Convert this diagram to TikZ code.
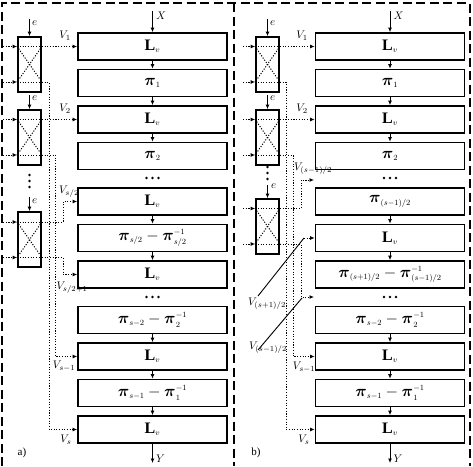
\RequirePackage{fix-cm}
\documentclass[tikz,border=0pt]{standalone}
\usepackage{amsmath}
\usepackage{fontspec}
\setmainfont{Liberation Serif}
\usetikzlibrary{arrows.meta,calc}
\newcommand\Lv{$\mathbf{L}_{\scriptscriptstyle v}$}
\newcommand\bpi{\boldsymbol{\pi}}
\tikzset{
 mbox/.style={draw, line width=1.6pt, minimum width=149pt, minimum height=27pt, inner sep=0pt, font=\fontsize{16}{18}\selectfont},
 xbox/.style={draw, line width=1.8pt, minimum width=23pt, minimum height=55pt, inner sep=0pt},
 arr/.style={line width=1pt, -{Latex[length=4.5pt,width=4pt]}},
 dotl/.style={line width=1pt, dash pattern=on 1.1pt off 1.6pt},
 dotarr/.style={dotl, -{Latex[length=4.5pt,width=4pt]}},
 vlab/.style={font=\fontsize{11}{13}\selectfont, inner sep=0pt},
 frame/.style={line width=2pt, dash pattern=on 9pt off 4.5pt},
 dotsym/.style={circle, fill, inner sep=0pt, minimum size=2.6pt},
 diag/.style={line width=0.9pt},
}
\begin{document}
\begin{tikzpicture}[x=1pt,y=-1pt]
\useasboundingbox (0,0) rectangle (473,466);
% frames
\draw[frame] (1.5,466) -- (1.5,3) -- (469.5,3) -- (469.5,466);
\draw[frame] (233.5,3) -- (233.5,466);

% ---------------- panel a ----------------
\node[mbox] (a1) at (152.5,46.5) {\Lv};
\node[mbox] (a2) at (152.5,83) {$\bpi_{\scriptscriptstyle 1}$};
\node[mbox] (a3) at (152.5,119.5) {\Lv};
\node[mbox] (a4) at (152.5,156) {$\bpi_{\scriptscriptstyle 2}$};
\node[mbox] (a5) at (152.5,201.5) {\Lv};
\node[mbox] (a6) at (152.5,238) {$\bpi_{\scriptscriptstyle s/2}-\bpi^{\scriptscriptstyle -1}_{\scriptscriptstyle s/2}$};
\node[mbox] (a7) at (152.5,274.5) {\Lv};
\node[mbox] (a8) at (152.5,320) {$\bpi_{\scriptscriptstyle s-2}-\bpi^{\scriptscriptstyle -1}_{\scriptscriptstyle 2}$};
\node[mbox] (a9) at (152.5,356.5) {\Lv};
\node[mbox] (a10) at (152.5,393) {$\bpi_{\scriptscriptstyle s-1}-\bpi^{\scriptscriptstyle -1}_{\scriptscriptstyle 1}$};
\node[mbox] (a11) at (152.5,429.5) {\Lv};
\foreach \u/\v in {a1/a2,a2/a3,a3/a4,a5/a6,a6/a7,a8/a9,a9/a10,a10/a11}
  \draw[arr] (\u.south) -- (\v.north);
\coordinate (xa) at (152.5,11);
\coordinate (ya) at (152.5,463);
\draw[arr] (xa) -- (a1.north);
\draw[arr] (a11.south) -- (ya);
\node[vlab, anchor=west] (xla) at (156,16) {$X$};
\node[vlab, anchor=west] (yla) at (156,459) {$Y$};
\node[dotsym] (da1) at (146.5,178) {};
\node[dotsym] (da2) at (152.5,178) {};
\node[dotsym] (da3) at (158.5,178) {};
\node[dotsym] (da4) at (146.5,297) {};
\node[dotsym] (da5) at (152.5,297) {};
\node[dotsym] (da6) at (158.5,297) {};

% crossed boxes a
\node[xbox] (ca1) at (29.5,64.5) {};
\node[xbox] (ca2) at (29.5,137.5) {};
\node[xbox] (ca3) at (29.5,239.5) {};
\coordinate (ca1t) at (29.5,46.5);  \coordinate (ca1b) at (29.5,82);
\coordinate (ca2t) at (29.5,119.5); \coordinate (ca2b) at (29.5,155);
\coordinate (ca3t) at (29.5,222);   \coordinate (ca3b) at (29.5,257.5);
\foreach \c in {ca1,ca2,ca3}{
  \draw[dotl] (\c.west |- \c t) -- (\c.east |- \c t);
  \draw[dotl] (\c.west |- \c b) -- (\c.east |- \c b);
  \draw[dotl] (\c.west |- \c t) -- (\c.east |- \c b);
  \draw[dotl] (\c.east |- \c t) -- (\c.west |- \c b);
  \coordinate (\c li) at (3,0);
  \draw[dotarr] (\c li |- \c t) -- (\c.west |- \c t);
  \draw[dotarr] (\c li |- \c b) -- (\c.west |- \c b);
}
% e inputs
\coordinate (ea1) at (29.5,19);
\coordinate (ea2) at (29.5,95);
\coordinate (ea3) at (29.5,197);
\draw[arr] (ea1) -- (ca1.north);
\draw[arr] (ea2) -- (ca2.north);
\draw[arr] (ea3) -- (ca3.north);
\node[vlab, anchor=west] (ela1) at (32,23) {$e$};
\node[vlab, anchor=west] (ela2) at (32,98) {$e$};
\node[vlab, anchor=west] (ela3) at (32,201) {$e$};
\node[dotsym] (va1) at (29.5,175) {};
\node[dotsym] (va2) at (29.5,181) {};
\node[dotsym] (va3) at (29.5,187) {};
% routes a
\draw[dotarr] (ca1.east |- ca1t) -- (a1.west);
\draw[dotarr] (ca2.east |- ca2t) -- (a3.west);
\coordinate (ra1) at (49,82);
\coordinate (ra2) at (55.5,155);
\coordinate (ra3) at (63,222);
\coordinate (ra4) at (63,257.5);
\draw[dotarr] (ca1.east |- ca1b) -- (ra1) |- (a11.west);
\draw[dotarr] (ca2.east |- ca2b) -- (ra2) |- (a9.west);
\draw[dotarr] (ca3.east |- ca3t) -- (ra3) |- (a5.west);
\draw[dotarr] (ca3.east |- ca3b) -- (ra4) |- (a7.west);
\node[vlab] (la1) at (65,36) {$V_1$};
\node[vlab] (la2) at (65,109) {$V_2$};
\node[vlab] (la3) at (69,192) {$V_{s/2}$};
\node[vlab] (la4) at (72,288) {$V_{s/2+1}$};
\node[vlab] (la5) at (64,366) {$V_{s-1}$};
\node[vlab] (la6) at (66,440) {$V_{s}$};
\node[vlab] (pa) at (22,453) {a)};

% ---------------- panel b ----------------
\node[mbox] (b1) at (390,46.5) {\Lv};
\node[mbox] (b2) at (390,83) {$\bpi_{\scriptscriptstyle 1}$};
\node[mbox] (b3) at (390,119.5) {\Lv};
\node[mbox] (b4) at (390,156) {$\bpi_{\scriptscriptstyle 2}$};
\node[mbox] (b5) at (390,201.5) {$\bpi_{\scriptscriptstyle (s-1)/2}$};
\node[mbox] (b6) at (390,238) {\Lv};
\node[mbox] (b7) at (390,274.5) {$\bpi_{\scriptscriptstyle (s+1)/2}-\bpi^{\scriptscriptstyle -1}_{\scriptscriptstyle (s-1)/2}$};
\node[mbox] (b8) at (390,320) {$\bpi_{\scriptscriptstyle s-2}-\bpi^{\scriptscriptstyle -1}_{\scriptscriptstyle 2}$};
\node[mbox] (b9) at (390,356.5) {\Lv};
\node[mbox] (b10) at (390,393) {$\bpi_{\scriptscriptstyle s-1}-\bpi^{\scriptscriptstyle -1}_{\scriptscriptstyle 1}$};
\node[mbox] (b11) at (390,429.5) {\Lv};
\foreach \u/\v in {b1/b2,b2/b3,b3/b4,b5/b6,b6/b7,b8/b9,b9/b10,b10/b11}
  \draw[arr] (\u.south) -- (\v.north);
\coordinate (xb) at (390,11);
\coordinate (yb) at (390,463);
\draw[arr] (xb) -- (b1.north);
\draw[arr] (b11.south) -- (yb);
\node[vlab, anchor=west] (xlb) at (393.5,16) {$X$};
\node[vlab, anchor=west] (ylb) at (393.5,459) {$Y$};
\node[dotsym] (db1) at (384,178) {};
\node[dotsym] (db2) at (390,178) {};
\node[dotsym] (db3) at (396,178) {};
\node[dotsym] (db4) at (384,297) {};
\node[dotsym] (db5) at (390,297) {};
\node[dotsym] (db6) at (396,297) {};

\node[xbox] (cb1) at (267.5,64.5) {};
\node[xbox] (cb2) at (267.5,137.5) {};
\node[xbox] (cb3) at (267.5,226.5) {};
\coordinate (cb1t) at (267.5,46.5);  \coordinate (cb1b) at (267.5,82);
\coordinate (cb2t) at (267.5,119.5); \coordinate (cb2b) at (267.5,155);
\coordinate (cb3t) at (267.5,208.5); \coordinate (cb3b) at (267.5,244);
\foreach \c in {cb1,cb2,cb3}{
  \draw[dotl] (\c.west |- \c t) -- (\c.east |- \c t);
  \draw[dotl] (\c.west |- \c b) -- (\c.east |- \c b);
  \draw[dotl] (\c.west |- \c t) -- (\c.east |- \c b);
  \draw[dotl] (\c.east |- \c t) -- (\c.west |- \c b);
  \coordinate (\c li) at (243,0);
  \draw[dotarr] (\c li |- \c t) -- (\c.west |- \c t);
  \draw[dotarr] (\c li |- \c b) -- (\c.west |- \c b);
}
\coordinate (eb1) at (267.5,19);
\coordinate (eb2) at (267.5,95);
\coordinate (eb3) at (267.5,185);
\draw[arr] (eb1) -- (cb1.north);
\draw[arr] (eb2) -- (cb2.north);
\draw[arr] (eb3) -- (cb3.north);
\node[vlab, anchor=west] (elb1) at (270,23) {$e$};
\node[vlab, anchor=west] (elb2) at (270,98) {$e$};
\node[vlab, anchor=west] (elb3) at (271,186) {$e$};
\node[dotsym] (vb1) at (267.5,167) {};
\node[dotsym] (vb2) at (267.5,173) {};
\node[dotsym] (vb3) at (267.5,179) {};

\draw[dotarr] (cb1.east |- cb1t) -- (b1.west);
\draw[dotarr] (cb2.east |- cb2t) -- (b3.west);
\coordinate (rb1) at (286,82);
\coordinate (rb2) at (293,155);
\coordinate (rb3) at (301,208.5);
\coordinate (rb4) at (301,244);
\coordinate (tb5) at (314,180);
\coordinate (tb8) at (314,297);
\draw[dotarr] (cb1.east |- cb1b) -- (rb1) |- (b11.west);
\draw[dotarr] (cb2.east |- cb2b) -- (rb2) |- (b9.west);
\draw[dotarr] (cb3.east |- cb3t) -- (rb3) |- (tb5);
\draw[dotarr] (cb3.east |- cb3b) -- (rb4) |- (tb8);
\coordinate (d1s) at (258,296);
\coordinate (d1e) at (304,238);
\coordinate (d2s) at (258,350);
\coordinate (d2e) at (302,298);
\draw[diag] (d1s) -- (d1e);
\draw[dotarr] (d1e) -- (b6.west);
\draw[diag] (d2s) -- (d2e);
\node[vlab] (lb1) at (302,36) {$V_1$};
\node[vlab] (lb2) at (302,109) {$V_2$};
\node[vlab] (lb3) at (313,169) {$V_{(s-1)/2}$};
\node[vlab] (lb4) at (267,304) {$V_{(s+1)/2}$};
\node[vlab] (lb5) at (268,348) {$V_{(s-1)/2}$};
\node[vlab] (lb6) at (304,367) {$V_{s-1}$};
\node[vlab] (lb7) at (304,440) {$V_{s}$};
\node[vlab] (pb) at (256,453) {b)};
\end{tikzpicture}
\end{document}
